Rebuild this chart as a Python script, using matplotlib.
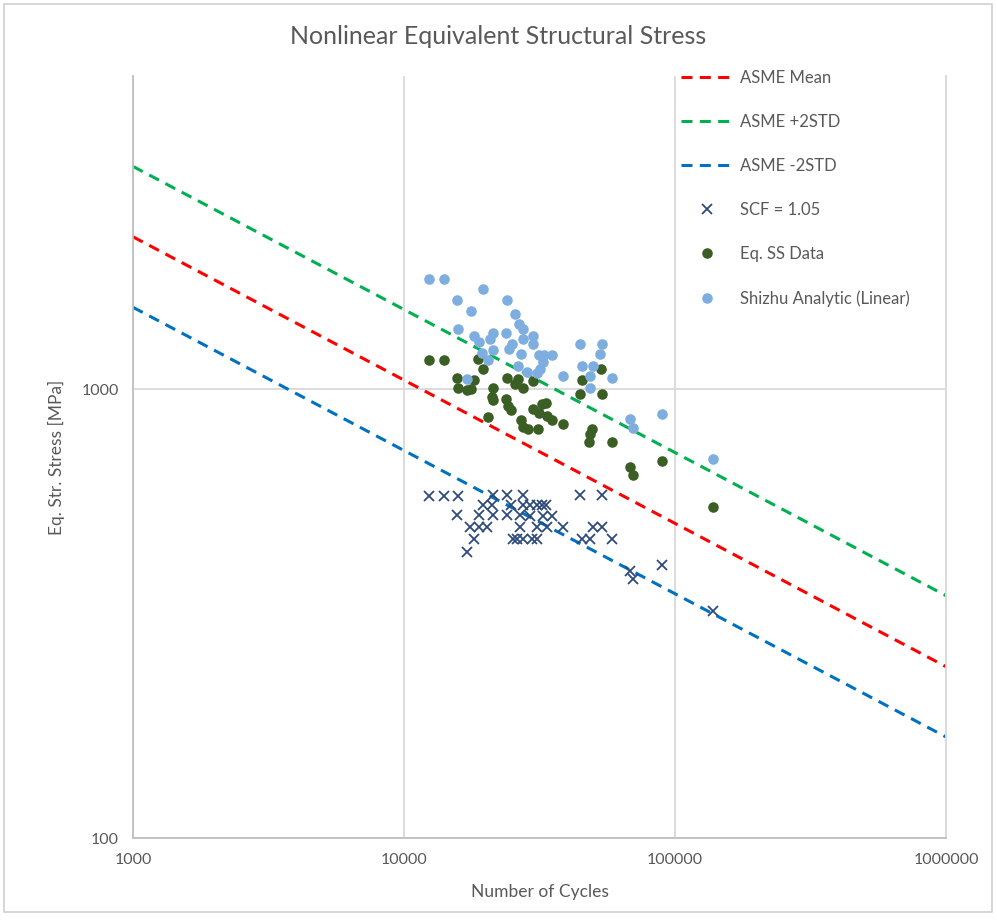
import matplotlib
matplotlib.use("Agg")
import matplotlib.pyplot as plt
from matplotlib.patches import Rectangle

plt.rcParams['font.family'] = ['Lato', 'DejaVu Sans']

# ASME master S-N curves (endpoints read at N = 1e3 and N = 1e6)
curve_n = [1000, 1000000]
asme_mean = [2190, 241]
asme_plus2 = [3143, 347]
asme_minus2 = [1525, 168]

# SCF = 1.05 points
scf_n = [12370, 14050, 15820, 21310, 23990, 27480, 44610, 53780,
         19570, 21130, 24820, 27480, 29170, 30960, 32300, 33420,
         15690, 18920, 21310, 23990, 26790, 29170, 32580, 35170,
         17520, 18920, 20250, 26790, 30960, 33710, 38630, 49830, 53780,
         18130, 25250, 26120, 27480, 29670, 30960, 45380, 48580, 58560,
         17080, 68220, 69980, 89540, 138100]
scf_s = [578, 578, 578, 581, 581, 581, 581, 581,
         552, 552, 552, 552, 552, 552, 552, 552,
         525, 525, 525, 525, 525, 522, 522, 522,
         494, 494, 494, 494, 494, 494, 494, 494, 494,
         464, 464, 464, 464, 464, 464, 464, 464, 464,
         434, 394, 378, 406, 321]

# Eq. SS data
ess_n = [12370, 14050, 18750, 19570, 15690, 18130, 15820, 17080, 17670,
         21310, 23990, 26340, 25680, 27480, 29920, 21130, 21310, 23790,
         24200, 24820, 20420, 27020, 27480, 28680, 31230, 29920, 32300,
         33420, 31490, 33710, 35170, 38630, 53330, 45380, 44610, 53780,
         49410, 48580, 48180, 58560, 68220, 69980, 89540, 138100]
ess_s = [1166, 1166, 1170, 1113, 1063, 1052, 1010, 995, 1005,
         1010, 1063, 1058, 1026, 1010, 1047, 960, 946, 951,
         917, 898, 867, 853, 823, 815, 815, 903, 926,
         931, 885, 871, 853, 836, 1113, 1052, 975, 975,
         815, 794, 762, 762, 671, 644, 692, 547]

# Shizhu analytic (linear)
shz_n = [12370, 14050, 19570, 15690, 23990, 17670, 25680, 15820, 26570,
         27480, 18130, 21310, 23790, 29920, 18920, 20770, 27480, 25030,
         29920, 44610, 53780, 19400, 21310, 24400, 27020, 52880, 20420,
         31490, 32860, 35170, 32580, 31760, 26340, 28430, 30960, 45380,
         49830, 38630, 48580, 58560, 17080, 48580, 68220, 69980, 89540,
         138100]
shz_s = [1765, 1765, 1677, 1585, 1585, 1498, 1475, 1367, 1402,
         1367, 1318, 1339, 1339, 1318, 1278, 1298, 1298, 1266,
         1266, 1266, 1266, 1208, 1227, 1233, 1202, 1202, 1166,
         1196, 1196, 1196, 1154, 1113, 1130, 1096, 1091, 1130,
         1130, 1074, 1069, 1063, 1058, 1010, 858, 819, 880,
         699]

x_ticks = [1000, 10000, 100000, 1000000]
y_ticks = [100, 1000]

txt = '#595959'
grid_c = '#D9D9D9'

fig = plt.figure(figsize=(9.97, 9.21), dpi=100)
ax = fig.add_axes([133/997, 1 - 838/921, (946 - 133)/997, (838 - 76)/921])

dash = (0, (3.6, 2.4))
ax.plot(curve_n, asme_mean, color='#FF0000', lw=2.2, linestyle=dash, label='ASME Mean')
ax.plot(curve_n, asme_plus2, color='#00B050', lw=2.2, linestyle=dash, label='ASME +2STD')
ax.plot(curve_n, asme_minus2, color='#0070C0', lw=2.2, linestyle=dash, label='ASME -2STD')
ax.plot(scf_n, scf_s, linestyle='none', marker='x', ms=7.5, mew=1.3,
        color='#2F4B7C', label='SCF = 1.05')
ax.plot(ess_n, ess_s, linestyle='none', marker='o', ms=7.6, mew=0,
        color='#3B5E24', label='Eq. SS Data')
ax.plot(shz_n, shz_s, linestyle='none', marker='o', ms=7.6, mew=0,
        color='#7DAEDF', label='Shizhu Analytic (Linear)')

ax.set_xscale('log')
ax.set_yscale('log')
ax.set_xlim(1000, 1000000)
ax.set_ylim(100, 5000)
ax.set_xticks(x_ticks)
ax.set_xticklabels([str(v) for v in x_ticks])
ax.set_yticks(y_ticks)
ax.set_yticklabels([str(v) for v in y_ticks])
ax.minorticks_off()
ax.tick_params(length=0, labelsize=11.5, labelcolor=txt)
ax.tick_params(axis='x', pad=11)
ax.tick_params(axis='y', pad=10)

ax.grid(True, color=grid_c, lw=1.3)
ax.set_axisbelow(True)
ax.spines['top'].set_visible(False)
ax.spines['right'].set_color(grid_c)
ax.spines['left'].set_color('#BFBFBF')
ax.spines['bottom'].set_color('#BFBFBF')
for side in ['left', 'bottom', 'right']:
    ax.spines[side].set_linewidth(1.3)

ax.set_xlabel('Number of Cycles', fontsize=12.5, color=txt, labelpad=12)
ax.set_ylabel('Eq. Str. Stress [MPa]', fontsize=12.5, color=txt, labelpad=12)
fig.text(0.5, 1 - 36/921, 'Nonlinear Equivalent Structural Stress',
         ha='center', va='center', fontsize=18, color=txt)

ax.legend(loc='upper left', bbox_to_anchor=(681/997, 1 - 70/921),
          bbox_transform=fig.transFigure, frameon=False, fontsize=12,
          labelcolor=txt, borderpad=0, borderaxespad=0, handlelength=3.1,
          handletextpad=0.45, labelspacing=1.68, numpoints=1)

fig.patches.append(Rectangle((4/997, 1 - 912/921), 988/997, 908/921,
                             transform=fig.transFigure, fill=False,
                             edgecolor='#D0D0D0', lw=1.2))

fig.savefig('out.png', dpi=100)
